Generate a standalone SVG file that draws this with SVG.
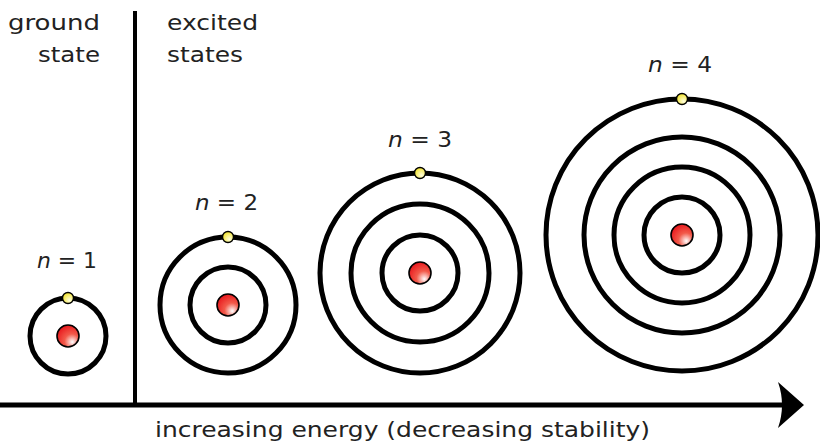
<svg xmlns="http://www.w3.org/2000/svg" width="820" height="444" viewBox="0 0 820 444">
<defs>
<radialGradient id="nuc" cx="0.65" cy="0.7" r="0.75" fx="0.7" fy="0.78">
<stop offset="0" stop-color="#ffffff"/>
<stop offset="0.45" stop-color="#f25a4a"/>
<stop offset="1" stop-color="#e8141a"/>
</radialGradient>
<radialGradient id="ele" cx="0.6" cy="0.65" r="0.7" fx="0.65" fy="0.72">
<stop offset="0" stop-color="#ffffe0"/>
<stop offset="1" stop-color="#f0e020"/>
</radialGradient>
<marker id="arr" viewBox="0 0 26 46" refX="22" refY="23" markerWidth="26" markerHeight="46" markerUnits="userSpaceOnUse" orient="auto">
<path d="M0,0 L26,23 L0,46 Q8,23 0,0 Z" fill="#000"/>
</marker>
<style>
.ring{fill:none;stroke:#000;stroke-width:5}
.nuc{fill:url(#nuc);stroke:#000;stroke-width:1.6}
.ele{fill:url(#ele);stroke:#000;stroke-width:1.4}
.t{font-family:"DejaVu Sans","Liberation Sans",sans-serif;font-size:22px;fill:#222}
</style>
</defs>
<g id="connectors">
<line x1="0" y1="405" x2="800" y2="405" stroke="#000" stroke-width="5" marker-end="url(#arr)"/>
<line x1="135" y1="11" x2="135" y2="405" stroke="#000" stroke-width="4"/>
</g>
<g id="labels">
<text class="t" x="8" y="30" textLength="92" lengthAdjust="spacingAndGlyphs">ground</text>
<text class="t" x="38" y="62" textLength="62" lengthAdjust="spacingAndGlyphs">state</text>
<text class="t" x="167" y="30" textLength="91" lengthAdjust="spacingAndGlyphs">excited</text>
<text class="t" x="167" y="62" textLength="76" lengthAdjust="spacingAndGlyphs">states</text>
<text class="t" x="155" y="437" textLength="495" lengthAdjust="spacingAndGlyphs">increasing energy (decreasing stability)</text>
</g>
<g id="atom1">
<text class="t" x="37" y="268" textLength="60" lengthAdjust="spacingAndGlyphs"><tspan font-style="italic">n</tspan> = 1</text>
<circle class="ring" cx="68" cy="336" r="38"/>
<circle class="nuc" cx="68" cy="336" r="11"/>
<circle class="ele" cx="68" cy="298" r="5.5"/>
</g>
<g id="atom2">
<text class="t" x="195" y="210" textLength="63" lengthAdjust="spacingAndGlyphs"><tspan font-style="italic">n</tspan> = 2</text>
<circle class="ring" cx="228" cy="305" r="38"/>
<circle class="ring" cx="228" cy="305" r="68"/>
<circle class="nuc" cx="228" cy="305" r="11"/>
<circle class="ele" cx="228" cy="237" r="5.5"/>
</g>
<g id="atom3">
<text class="t" x="388" y="147" textLength="64" lengthAdjust="spacingAndGlyphs"><tspan font-style="italic">n</tspan> = 3</text>
<circle class="ring" cx="420" cy="273" r="38"/>
<circle class="ring" cx="420" cy="273" r="69"/>
<circle class="ring" cx="420" cy="273" r="100"/>
<circle class="nuc" cx="420" cy="273" r="11"/>
<circle class="ele" cx="420" cy="173" r="5.5"/>
</g>
<g id="atom4">
<text class="t" x="648" y="72" textLength="64" lengthAdjust="spacingAndGlyphs"><tspan font-style="italic">n</tspan> = 4</text>
<circle class="ring" cx="682" cy="235" r="38"/>
<circle class="ring" cx="682" cy="235" r="68"/>
<circle class="ring" cx="682" cy="235" r="98"/>
<circle class="ring" cx="682" cy="235" r="136"/>
<circle class="nuc" cx="682" cy="235" r="11"/>
<circle class="ele" cx="682" cy="99" r="5.5"/>
</g>
</svg>
